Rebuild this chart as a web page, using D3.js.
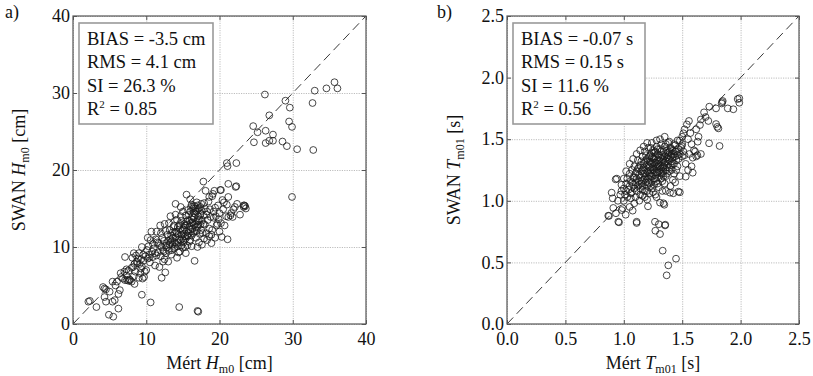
<!DOCTYPE html>
<html>
<head>
<meta charset="utf-8">
<script src="https://cdn.jsdelivr.net/npm/d3@7"></script>
<style>
  body { margin: 0; background: #fff; }
  svg { display: block; }
  .grid line { stroke: #bdbdbd; stroke-dasharray: 1.2,1.2; }
  .grid path.domain, .grid text { display: none; }
  .ticks line { stroke: #555; }
  .ticks path.domain { display: none; }
</style>
</head>
<body>
<svg id="chart" width="813" height="376"></svg>
<script>
// ---- panel a) significant wave height [cm] : measured vs SWAN
const hsTicks = [0, 10, 20, 30, 40];
const hsPoints = [
  [2.1,2.9],[2.3,3.0],[3.2,2.2],[4.1,4.8],[4.3,4.6],[4.5,4.5],[4.3,3.5],[4.5,2.9],[5.4,2.9],[5.7,3.1],
  [6.2,2.0],[6.2,3.9],[6.4,4.4],[4.9,1.2],[5.5,0.95],[5.4,5.5],[6.0,5.5],[6.6,6.1],[7.1,5.7],[7.4,5.7],
  [7.6,5.6],[7.8,5.7],[8.0,5.5],[7.7,5.8],[7.1,8.7],[8.4,5.2],[9.4,3.8],[10.6,2.8],[14.5,2.2],[17.0,1.7],
  [17.1,1.6],[5.0,4.2],[5.8,5.0],[6.5,6.6],[7.0,6.8],[7.3,6.3],[8.2,7.4],[8.5,6.8],[8.8,7.9],[9.0,6.0],
  [9.2,6.6],[9.5,5.9],[9.7,6.1],[9.3,7.2],[9.4,7.5],[9.8,6.8],[9.6,8.2],[8.1,8.6],[8.6,8.9],[9.0,9.2],
  [8.7,8.1],[8.3,6.2],[10.0,7.0],[10.2,8.5],[10.4,9.0],[10.1,9.6],[10.5,8.0],[10.8,9.4],[10.3,10.1],[10.9,8.7],
  [11.0,9.8],[11.2,7.6],[11.4,8.9],[11.6,9.3],[11.8,7.4],[11.9,10.2],[12.1,6.0],[12.6,6.7],[12.0,8.8],[12.3,9.6],
  [12.4,10.8],[12.5,8.4],[12.7,9.2],[12.8,10.5],[12.9,11.6],[10.7,12.0],[11.9,12.8],[11.3,11.0],[10.6,10.9],[11.5,10.6],
  [12.2,11.2],[12.6,12.1],[13.0,8.1],[13.1,9.5],[13.2,10.3],[13.3,11.0],[13.4,9.0],[13.5,10.8],[13.6,11.9],[13.7,12.6],
  [13.8,9.8],[13.9,10.6],[14.0,11.3],[14.0,15.6],[14.1,12.0],[14.2,8.6],[14.3,10.1],[14.4,11.6],[14.5,12.8],[14.6,9.4],
  [14.7,10.9],[14.8,13.4],[14.9,11.1],[15.0,12.3],[15.0,9.9],[15.1,10.6],[15.2,13.0],[15.3,11.4],[15.4,14.1],[15.5,16.8],
  [15.5,12.0],[15.6,10.2],[15.7,13.5],[15.8,11.8],[15.9,12.7],[16.0,14.6],[16.0,10.9],[16.1,13.1],[16.2,11.5],[16.3,12.4],
  [16.4,15.0],[16.5,13.8],[16.6,8.2],[16.6,12.0],[16.7,14.3],[16.8,11.2],[16.9,13.3],[17.0,15.4],[17.0,12.6],[17.1,14.0],
  [17.2,10.6],[17.3,13.6],[17.4,15.2],[17.5,12.2],[17.6,14.7],[17.7,11.8],[17.8,13.0],[17.8,18.5],[17.9,15.7],[18.0,12.9],
  [18.1,17.3],[18.2,14.2],[18.3,10.9],[18.4,13.5],[18.5,15.9],[18.6,12.4],[18.7,14.9],[18.9,11.6],[18.9,10.5],[19.0,16.6],
  [19.1,16.9],[19.2,13.8],[19.3,17.3],[19.4,15.1],[19.6,12.8],[19.8,15.4],[20.0,14.4],[20.1,17.4],[20.2,13.1],[20.2,17.4],
  [20.4,16.1],[20.7,12.8],[21.0,15.5],[21.0,20.9],[21.1,20.5],[21.1,11.0],[21.2,16.5],[21.2,18.2],[21.2,13.9],[21.5,14.1],
  [21.6,14.4],[21.8,13.9],[22.1,15.2],[22.2,17.8],[22.3,20.9],[22.3,17.9],[22.8,14.2],[23.3,15.2],[23.4,15.4],[23.6,15.0],
  [13.2,12.2],[13.4,11.5],[13.6,10.3],[13.9,11.9],[14.1,10.4],[14.3,12.6],[14.5,11.0],[14.6,13.0],[14.8,10.2],[14.9,12.1],
  [15.1,11.7],[15.2,12.5],[15.3,10.0],[15.4,11.1],[15.6,12.9],[15.7,11.4],[15.9,10.7],[16.1,12.0],[16.2,13.6],[16.4,11.8],
  [16.5,12.9],[16.7,13.0],[16.8,14.6],[16.9,12.1],[17.1,12.9],[17.3,11.7],[17.4,14.3],[17.6,13.4],[17.2,15.0],[16.6,15.3],
  [16.3,14.0],[15.8,14.2],[15.5,13.3],[14.7,14.0],[14.2,13.5],[13.8,12.8],[13.0,10.8],[12.8,9.9],[12.4,9.4],[12.1,10.0],
  [11.7,10.5],[11.2,9.2],[10.9,10.4],[10.4,8.6],[9.9,8.8],[9.6,9.0],[9.3,8.4],[9.1,7.8],[8.9,8.5],[8.4,7.8],
  [8.0,7.3],[7.6,6.9],[7.3,7.1],[6.8,5.9],[17.5,15.6],[17.0,14.8],[16.9,15.8],[16.2,15.5],[18.0,15.0],[18.3,14.6],
  [18.8,13.9],[19.5,14.0],[19.9,13.6],[20.5,14.9],[20.9,14.0],[19.0,12.2],[18.6,11.4],[17.9,11.1],[20.3,11.3],[16.1,15.2],
  [16.4,15.3],[16.7,15.0],
  [12.3,8.1],[13.5,9.6],[14.4,9.3],[15.4,9.2],[16.2,10.1],[17.0,10.0],[17.6,10.3],[18.2,11.8],[19.4,11.2],[20.0,12.0],
  [19.7,13.0],[21.9,14.9],[22.4,15.6],[20.6,15.8],[19.2,14.6],[18.6,16.5],[16.0,16.2],[14.7,15.2],[13.3,14.0],[12.5,13.0],
  [11.4,12.0],[10.2,11.2],[9.4,10.0],[8.3,9.2],[15.0,14.6],[14.0,14.2],[13.1,13.1],[12.0,11.8],
  [13.6,11.2],[14.2,11.8],[14.8,11.6],[15.3,12.8],[15.9,13.4],[16.5,14.4],[17.1,13.4],[15.1,10.9],[14.4,10.6],[16.0,12.3],
  [16.8,12.6],[17.4,12.9],[13.9,10.0],[15.6,11.5],[16.3,13.2],[17.8,14.1],[14.6,12.3],[13.3,10.6],[12.7,10.2],[15.7,14.8],
  [26.2,29.8],[33.0,30.3],[34.6,30.6],[36.1,30.6],[35.7,31.4],[29.0,29.0],[29.6,28.1],[32.7,28.7],[26.8,27.1],[29.5,26.3],
  [29.9,25.6],[24.6,25.7],[25.2,24.9],[26.3,25.1],[27.3,24.6],[27.3,23.8],[26.8,23.8],[26.3,23.5],[24.7,23.6],[28.6,23.7],
  [29.2,23.1],[30.6,22.7],[32.8,22.6],[29.9,16.5],[23.3,15.4],[23.5,15.3]
];
const hsStats = ["BIAS = -3.5 cm", "RMS = 4.1 cm", "SI = 26.3 %"];
const hsR2 = "0.85";

// ---- panel b) mean wave period Tm01 [s]
const tmTicks = [0, 0.5, 1.0, 1.5, 2.0, 2.5];
const tmPoints = [
  [0.959,0.825],[1.11,0.83],[1.11,0.82],[1.27,0.757],[1.31,0.73],[1.355,0.806],[1.333,0.595],[1.447,0.53],[1.381,0.476],[1.367,0.395],
  [0.867,0.879],[0.873,0.877],[0.953,0.83],[1.353,0.80],[1.30,0.81],[1.267,0.83],
  [1.207,0.955],[1.347,0.968],[1.31,0.985],[1.076,0.92],[1.016,0.887],[0.91,0.942],[0.933,0.899],[0.982,0.925],[1.133,1.001],[1.34,0.98],
  [1.424,1.061],[1.48,1.069],[1.396,1.066],[1.467,1.074],[0.896,1.066],[0.905,1.02],[0.93,1.174],[0.94,1.18],[0.99,0.94],[1.05,0.95],
  [1.0,1.0],[1.03,1.03],[0.95,1.0],[0.97,1.05],[1.02,1.08],[1.06,1.02],[1.09,0.98],[1.16,1.04],[1.25,1.07],[1.28,1.03],
  [1.36,1.08],[1.20,1.01],
  [1.989,1.832],[1.989,1.796],[1.938,1.743],[1.89,1.75],[1.838,1.79],[1.847,1.81],[1.842,1.80],[1.79,1.75],[1.732,1.764],[1.687,1.718],
  [1.724,1.648],[1.79,1.623],[1.81,1.588],[1.80,1.60],[1.558,1.648],[1.652,1.615],[1.73,1.467],[1.82,1.445],[1.59,1.228],[1.53,1.196],
  [1.61,1.40],[1.60,1.41],[1.51,1.548],[1.633,1.48],[1.496,1.445],[1.975,1.826],[1.70,1.68],[1.66,1.66],[1.62,1.58],[1.57,1.55],
  [1.55,1.50],[1.58,1.46],[1.64,1.52],[1.54,1.62],[1.52,1.58],[1.50,1.52],[1.56,1.38],[1.62,1.36],[1.59,1.35],[1.63,1.37],
  [1.66,1.38],[1.53,1.30],[1.58,1.28],[1.55,1.25],
  [1.00,1.10],[1.02,1.14],[1.03,1.18],[1.04,1.09],[1.05,1.12],[1.05,1.22],[1.06,1.16],[1.07,1.07],[1.07,1.25],[1.08,1.13],
  [1.08,1.19],[1.09,1.10],[1.09,1.28],[1.10,1.15],[1.10,1.22],[1.11,1.08],[1.11,1.18],[1.12,1.12],[1.12,1.26],[1.12,1.33],
  [1.13,1.16],[1.13,1.21],[1.14,1.10],[1.14,1.29],[1.15,1.14],[1.15,1.19],[1.15,1.24],[1.16,1.36],[1.16,1.12],[1.17,1.17],
  [1.17,1.27],[1.17,1.22],[1.18,1.08],[1.18,1.31],[1.18,1.40],[1.19,1.15],[1.19,1.20],[1.19,1.25],[1.20,1.12],[1.20,1.29],
  [1.20,1.34],[1.21,1.18],[1.21,1.23],[1.21,1.43],[1.22,1.14],[1.22,1.27],[1.22,1.32],[1.23,1.20],[1.23,1.25],[1.23,1.37],
  [1.24,1.10],[1.24,1.16],[1.24,1.30],[1.25,1.22],[1.25,1.28],[1.25,1.34],[1.25,1.41],[1.26,1.18],[1.26,1.25],[1.26,1.13],
  [1.27,1.31],[1.27,1.36],[1.27,1.21],[1.28,1.27],[1.28,1.16],[1.28,1.44],[1.29,1.23],[1.29,1.33],[1.29,1.38],[1.30,1.29],
  [1.30,1.19],[1.30,1.11],[1.31,1.25],[1.31,1.35],[1.31,1.42],[1.32,1.31],[1.32,1.22],[1.32,1.46],[1.33,1.27],[1.33,1.37],
  [1.33,1.16],[1.34,1.33],[1.34,1.40],[1.34,1.24],[1.35,1.29],[1.35,1.36],[1.35,1.44],[1.36,1.20],[1.36,1.32],[1.36,1.38],
  [1.37,1.27],[1.37,1.41],[1.37,1.35],[1.38,1.30],[1.38,1.47],[1.38,1.37],[1.39,1.33],[1.39,1.24],[1.39,1.40],[1.40,1.36],
  [1.40,1.29],[1.40,1.43],[1.41,1.38],[1.41,1.32],[1.42,1.35],[1.42,1.41],[1.42,1.17],[1.43,1.38],[1.43,1.30],[1.44,1.36],
  [1.44,1.45],[1.45,1.33],[1.45,1.40],[1.46,1.37],[1.46,1.49],[1.47,1.42],[1.47,1.34],[1.48,1.38],[1.48,1.49],[1.49,1.43],
  [1.50,1.36],[1.51,1.40],[1.52,1.37],[1.50,1.46],[1.45,1.25],[1.48,1.20],[1.44,1.15],[1.40,1.12],[1.35,1.14],[1.33,1.08],
  [1.27,1.05],[1.22,1.06],[1.18,1.03],[1.14,1.05],[1.10,1.03],[1.06,1.06],[1.01,1.05],[0.98,1.08],[0.98,1.13],[1.00,1.18],
  [1.02,1.24],[1.05,1.30],[1.08,1.34],[1.11,1.38],[1.14,1.41],[1.17,1.44],[1.20,1.47],[1.24,1.47],[1.28,1.49],[1.31,1.50],
  [1.35,1.52],[1.26,1.39],[1.23,1.43],[1.19,1.37],[1.15,1.32],[1.13,1.27],[1.11,1.24],[1.09,1.19],[1.07,1.15],[1.24,1.35],
  [1.26,1.31],[1.29,1.28],[1.32,1.26],[1.34,1.20],[1.37,1.22],[1.39,1.27],[1.41,1.25],[1.43,1.22],[1.46,1.28],[1.43,1.46],
  [1.39,1.48],[1.36,1.46],[1.32,1.40],[1.29,1.42],
  [1.21,1.28],[1.23,1.31],[1.26,1.34],[1.28,1.30],[1.30,1.33],[1.33,1.34],[1.35,1.31],[1.38,1.34],[1.30,1.37],[1.27,1.40],
  [1.24,1.39],[1.22,1.36],[1.19,1.33],[1.17,1.30],[1.16,1.25],[1.18,1.22],[1.20,1.24],[1.22,1.22],[1.25,1.25],[1.28,1.23],
  [1.31,1.28],[1.34,1.28],[1.36,1.25],[1.33,1.22],[1.30,1.24],[1.27,1.18],[1.24,1.20],[1.21,1.15],[1.18,1.18],[1.15,1.16],
  [1.13,1.13],[1.16,1.09],[1.20,1.08],[1.23,1.12],[1.29,1.14],[1.32,1.18],[1.38,1.39],[1.41,1.42],[1.44,1.40],[1.42,1.30]
];
const tmStats = ["BIAS = -0.07 s", "RMS = 0.15 s", "SI = 11.6 %"];
const tmR2 = "0.56";

const FONT = "'Liberation Serif'";
const svg = d3.select("#chart");

function drawPanel(cfg) {
  const x = d3.scaleLinear().domain(cfg.domain).range([cfg.left, cfg.right]);
  const y = d3.scaleLinear().domain(cfg.domain).range([cfg.bottom, cfg.top]);
  const w = cfg.right - cfg.left, h = cfg.bottom - cfg.top;
  const g = svg.append("g");

  // dotted grid
  g.append("g").attr("class", "grid")
    .attr("transform", `translate(0,${cfg.bottom})`)
    .call(d3.axisBottom(x).tickValues(cfg.ticks).tickSize(-h));
  g.append("g").attr("class", "grid")
    .attr("transform", `translate(${cfg.left},0)`)
    .call(d3.axisLeft(y).tickValues(cfg.ticks).tickSize(-w));

  // 1:1 line
  g.append("line")
    .attr("x1", x(cfg.domain[0])).attr("y1", y(cfg.domain[0]))
    .attr("x2", x(cfg.domain[1])).attr("y2", y(cfg.domain[1]))
    .attr("stroke", "#222").attr("stroke-width", 0.9)
    .attr("stroke-dasharray", "9,5");

  // scatter
  g.append("g").selectAll("circle")
    .data(cfg.points)
    .enter().append("circle")
    .attr("cx", d => x(d[0]))
    .attr("cy", d => y(d[1]))
    .attr("r", 3.4)
    .attr("fill", "none")
    .attr("stroke", "#1a1a1a")
    .attr("stroke-width", 0.8);

  // inward ticks on all sides
  const fmt = cfg.fmt;
  g.append("g").attr("class", "ticks")
    .attr("transform", `translate(0,${cfg.bottom})`)
    .call(d3.axisBottom(x).tickValues(cfg.ticks).tickFormat(fmt).tickSize(-4).tickPadding(8));
  g.append("g").attr("class", "ticks")
    .attr("transform", `translate(${cfg.left},0)`)
    .call(d3.axisLeft(y).tickValues(cfg.ticks).tickFormat(fmt).tickSize(-4).tickPadding(3));
  g.append("g").attr("class", "ticks")
    .attr("transform", `translate(0,${cfg.top})`)
    .call(d3.axisTop(x).tickValues(cfg.ticks).tickFormat("").tickSize(-4));
  g.append("g").attr("class", "ticks")
    .attr("transform", `translate(${cfg.right},0)`)
    .call(d3.axisRight(y).tickValues(cfg.ticks).tickFormat("").tickSize(-4));
  g.selectAll(".ticks .tick text").attr("fill", "#111").attr("font-size", 18);

  // frame
  g.append("rect")
    .attr("x", cfg.left).attr("y", cfg.top)
    .attr("width", w).attr("height", h)
    .attr("fill", "none").attr("stroke", "#555").attr("stroke-width", 1.2);

  // stats box
  g.append("rect")
    .attr("x", cfg.left + 6).attr("y", cfg.top + 7)
    .attr("width", cfg.boxW).attr("height", 101)
    .attr("fill", "#fff").attr("stroke", "#9a9a9a").attr("stroke-width", 1.6);
  const tx = cfg.left + 14;
  cfg.stats.forEach((s, i) => {
    g.append("text").attr("x", tx).attr("y", cfg.top + 29 + i * 23.3)
      .attr("font-size", 18.5).attr("fill", "#111").text(s);
  });
  const r2 = g.append("text").attr("x", tx).attr("y", cfg.top + 29 + 3 * 23.3)
    .attr("font-size", 18.5).attr("fill", "#111");
  r2.append("tspan").text("R");
  r2.append("tspan").attr("font-size", 11).attr("dy", -7).text("2");
  r2.append("tspan").attr("dy", 7).text(" = " + cfg.r2);

  // panel letter
  g.append("text").attr("x", cfg.letterX).attr("y", 18)
    .attr("font-size", 18).attr("fill", "#111").text(cfg.letter);

  // axis titles
  const xl = g.append("text")
    .attr("x", (cfg.left + cfg.right) / 2).attr("y", 369)
    .attr("text-anchor", "middle").attr("font-size", 18).attr("fill", "#111");
  xl.append("tspan").text("Mért ");
  xl.append("tspan").attr("font-style", "italic").text(cfg.sym);
  xl.append("tspan").attr("font-size", 12).attr("dy", 4).text(cfg.sub);
  xl.append("tspan").attr("dy", -4).text(" " + cfg.unit);

  const yl = g.append("text")
    .attr("transform", `translate(${cfg.ylabX},${(cfg.top + cfg.bottom) / 2}) rotate(-90)`)
    .attr("text-anchor", "middle").attr("font-size", 18).attr("fill", "#111");
  yl.append("tspan").text("SWAN ");
  yl.append("tspan").attr("font-style", "italic").text(cfg.sym);
  yl.append("tspan").attr("font-size", 12).attr("dy", 4).text(cfg.sub);
  yl.append("tspan").attr("dy", -4).text(" " + cfg.unit);
}

drawPanel({
  domain: [0, 40], ticks: hsTicks, fmt: d3.format("d"),
  left: 73, right: 366, top: 16, bottom: 324,
  points: hsPoints, stats: hsStats, r2: hsR2, boxW: 134,
  letter: "a)", letterX: 5, ylabX: 25,
  sym: "H", sub: "m0", unit: "[cm]"
});

drawPanel({
  domain: [0, 2.5], ticks: tmTicks, fmt: d3.format(".1f"),
  left: 507, right: 799, top: 16, bottom: 324,
  points: tmPoints, stats: tmStats, r2: tmR2, boxW: 132,
  letter: "b)", letterX: 437, ylabX: 460,
  sym: "T", sub: "m01", unit: "[s]"
});

// set the face on every text node directly
svg.selectAll("text, tspan").attr("font-family", FONT);
</script>
</body>
</html>
